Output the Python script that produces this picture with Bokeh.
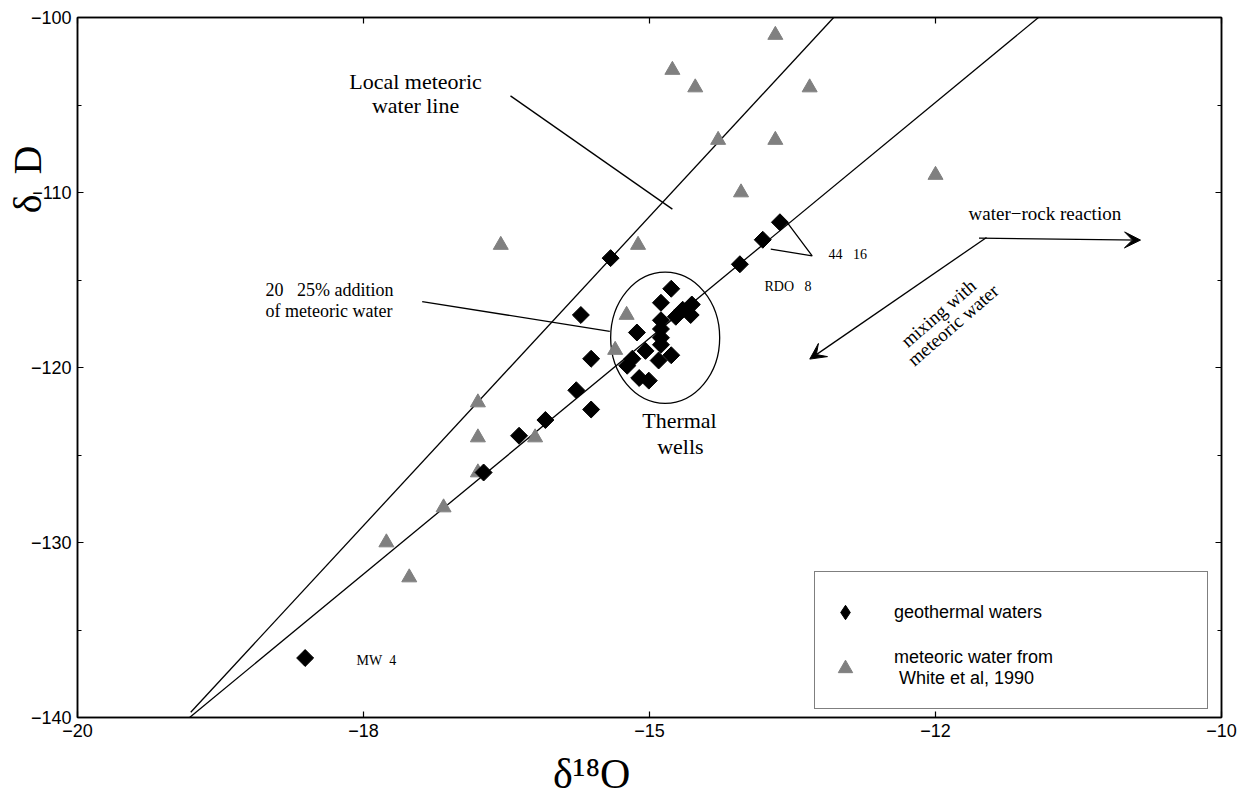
import math
from bokeh.plotting import figure
from bokeh.models import (LinearAxis, FixedTicker, Label, Legend, LegendItem,
                          Range1d, Arrow, VeeHead, Title)
from bokeh.embed import file_html
from bokeh.resources import INLINE

# ---------------- data ----------------
geo_x = [-18.01, -16.45, -16.14, -15.91, -15.64, -15.51, -15.51, -15.60,
         -15.34, -14.21, -14.01, -13.86,
         -14.81, -14.90, -14.63, -14.71, -14.64, -14.77, -14.90, -15.11,
         -14.90, -14.90, -14.90, -15.035, -15.15, -15.195, -14.92, -14.81,
         -15.09, -15.006]
geo_y = [-136.6, -126.0, -123.9, -123.0, -121.3, -122.4, -119.5, -117.0,
         -113.75, -114.1, -112.7, -111.7,
         -115.5, -116.3, -116.4, -116.7, -117.0, -117.1, -117.3, -118.0,
         -117.8, -118.3, -118.7, -119.05, -119.5, -119.9, -119.6, -119.3,
         -120.6, -120.75]

met_x = [-13.9, -14.8, -14.6, -13.6, -14.4, -13.9, -14.2, -12.5, -16.3,
         -15.1, -15.2, -15.3, -16.5, -16.5, -16.0, -16.5, -16.8, -17.3, -17.1]
met_y = [-101, -103, -104, -104, -107, -107, -110, -109, -113,
         -113, -117, -119, -122, -124, -124, -126, -128, -130, -132]

# local meteoric water line and mixing line (end points)
lmwl_x = [-19.01, -13.39]
lmwl_y = [-139.7, -100.0]
mix_x = [-19.02, -11.60]
mix_y = [-140.0, -100.0]

# thermal wells ellipse
ell_x, ell_y, ell_w, ell_h = -14.863, -118.3, 0.953, 7.49

# annotation leader lines
lead_lmwl_x = [-16.215, -14.80]
lead_lmwl_y = [-104.48, -110.95]
lead_add_x = [-16.987, -15.347]
lead_add_y = [-116.23, -117.94]
lead_4416_x = [-13.797, -13.578, -13.94]
lead_4416_y = [-111.71, -113.62, -113.23]

# process arrows
wr_arrow = (-12.12, -112.61, -10.708, -112.72)
mix_arrow = (-12.054, -112.57, -13.599, -119.52)

xticks = [-20, -17.5, -15, -12.5, -10]
xtick_labels = ["\u221220", "\u221218", "\u221215", "\u221212", "\u221210"]
yticks = [-140, -130, -120, -110, -100]
yminor = [-135, -125, -115, -105]
ytick_labels = ["\u2212140", "\u2212130", "\u2212120", "\u2212110", "\u2212100"]

SERIF = "Liberation Serif"
SANS = "Liberation Sans"
NB = "\u00a0"

p = figure(width=1240, height=802, x_range=Range1d(-20, -10),
           y_range=Range1d(-140, -100), output_backend="svg",
           toolbar_location=None, min_border_left=77, min_border_right=19,
           min_border_top=17, min_border_bottom=85)
p.grid.visible = False
p.outline_line_color = "black"
p.outline_line_width = 1.5
p.background_fill_color = "white"
p.border_fill_color = "white"

def style_axis(ax, ticks, minor, labels, show_labels):
    ax.ticker = FixedTicker(ticks=ticks, minor_ticks=minor)
    ax.axis_line_color = "black"
    ax.axis_line_width = 1.5
    ax.major_tick_in = 6
    ax.major_tick_out = 0
    ax.minor_tick_in = 4
    ax.minor_tick_out = 0
    ax.major_tick_line_width = 1.2
    ax.minor_tick_line_width = 1.2
    if show_labels:
        ax.major_label_overrides = dict(zip(ticks, labels))
        ax.major_label_text_font = SANS
        ax.major_label_text_font_size = "18px"
        ax.major_label_text_color = "black"
        ax.major_label_standoff = 6
    else:
        ax.major_label_overrides = {t: "" for t in ticks}
        ax.major_label_standoff = 0

xax = p.below[0]
style_axis(xax, xticks, [], xtick_labels, True)
style_axis(p.left[0], yticks, yminor, ytick_labels, True)
top_ax = LinearAxis()
right_ax = LinearAxis()
style_axis(top_ax, xticks, [], xtick_labels, False)
style_axis(right_ax, yticks, yminor, ytick_labels, False)
p.add_layout(top_ax, "above")
p.add_layout(right_ax, "right")

# x axis title (trailing no-break spaces move it left of centre, as drawn)
xax.axis_label = "\u03b4\u00b9\u2078O" + NB * 11
xax.axis_label_text_font = SERIF
xax.axis_label_text_font_size = "42px"
xax.axis_label_text_font_style = "normal"
xax.axis_label_text_color = "black"
xax.axis_label_standoff = 11

# lines
p.line(lmwl_x, lmwl_y, line_color="black", line_width=1.3)
p.line(mix_x, mix_y, line_color="black", line_width=1.3)
p.line(lead_lmwl_x, lead_lmwl_y, line_color="black", line_width=1.3)
p.line(lead_add_x, lead_add_y, line_color="black", line_width=1.3)
p.line(lead_4416_x, lead_4416_y, line_color="black", line_width=1.3)

p.ellipse(x=ell_x, y=ell_y, width=ell_w, height=ell_h, fill_color=None,
          line_color="black", line_width=1.3)

met = p.scatter(met_x, met_y, marker="triangle", size=15, fill_color="#808080",
                line_color="#808080")
geo = p.scatter(geo_x, geo_y, marker="square", angle=math.pi / 4, size=12,
                fill_color="black", line_color="black")
# diamond-shaped stand-in for the legend (hidden inside the first point)
geo_leg = p.scatter(geo_x[:1], geo_y[:1], marker="diamond", size=16,
                    fill_color="black", line_color="black")

for xs, ys, xe, ye in (wr_arrow, mix_arrow):
    p.add_layout(Arrow(end=VeeHead(size=16, fill_color="black", line_color="black"),
                       x_start=xs, y_start=ys, x_end=xe, y_end=ye,
                       line_color="black", line_width=1.3))

def lab(x, y, text, size, align="left", angle=0.0, font=SERIF):
    p.add_layout(Label(x=x, y=y, text=text, text_font=font,
                       text_font_size=size, text_align=align,
                       text_baseline="middle", angle=angle,
                       text_color="black"))

lab(-17.045, -103.66, "Local meteoric", "22px", "center")
lab(-17.045, -105.05, "water line", "22px", "center")
lab(-14.738, -123.05, "Thermal", "22px", "center")
lab(-14.73, -124.51, "wells", "22px", "center")
lab(-18.357, -115.58, "20" + NB * 3 + "25% addition", "18px")
lab(-18.357, -116.76, "of meteoric water", "18px")
lab(-12.211, -111.18, "water\u2212rock reaction", "19px")
lab(-13.435, -113.56, "44" + NB * 3 + "16", "14px")
lab(-13.995, -115.39, "RDO" + NB * 3 + "8", "14px")
lab(-17.561, -136.77, "MW" + NB * 2 + "4", "14px")
ang = math.radians(41)
lab(-12.474, -116.89, "mixing with", "19px", "center", ang)
lab(-12.347, -117.57, "meteoric water", "19px", "center", ang)

# y axis title
p.add_layout(Title(text="\u03b4" + NB + " D", text_font=SERIF,
                   text_font_size="40px", text_font_style="normal",
                   text_color="black", align="right", offset=128,
                   vertical_align="bottom", standoff=-44), "left")

legend = Legend(items=[LegendItem(label="geothermal waters", renderers=[geo_leg]),
                       LegendItem(label="meteoric water from\n White et al, 1990",
                                  renderers=[met])],
                location=(737, 8))
legend.border_line_color = "black"
legend.border_line_width = 1.5
legend.background_fill_color = "white"
legend.background_fill_alpha = 1.0
legend.label_text_font = SANS
legend.label_text_font_size = "18px"
legend.label_text_color = "black"
legend.padding = 12
legend.glyph_width = 36
legend.glyph_height = 36
legend.label_standoff = 31
legend.label_width = 301
legend.label_height = 56
legend.spacing = 0
legend.margin = 0
p.add_layout(legend)

open("out.html", "w").write(file_html(p, INLINE))
